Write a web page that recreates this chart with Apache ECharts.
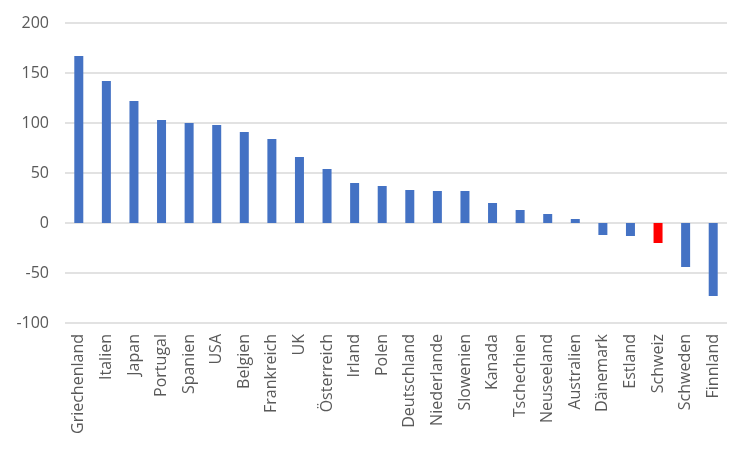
<!DOCTYPE html>
<html>
<head>
<meta charset="utf-8">
<script src="https://cdn.jsdelivr.net/npm/echarts@6/dist/echarts.min.js"></script>
<style>html,body{margin:0;padding:0;background:#fff}#c{width:750px;height:450px}</style>
</head>
<body>
<div id="c"></div>
<script>
const categories = ["Griechenland","Italien","Japan","Portugal","Spanien","USA","Belgien","Frankreich","UK","Österreich","Irland","Polen","Deutschland","Niederlande","Slowenien","Kanada","Tschechien","Neuseeland","Australien","Dänemark","Estland","Schweiz","Schweden","Finnland"];
const values = [167,142,122,103,100,98,91,84,66,54,40,37,33,32,32,20,13,9,4,-12,-13,-20,-44,-73];
const highlight = "Schweiz";
const yTicks = {min:-100, max:200, interval:50};

const chart = echarts.init(document.getElementById('c'), null, {renderer:'canvas'});
chart.setOption({
  animation:false,
  grid:{left:65, right:23, top:23, bottom:127},
  xAxis:{
    type:'category', data:categories,
    axisLine:{show:false}, axisTick:{show:false},
    axisLabel:{rotate:90, interval:0, color:'#595959', fontSize:16, fontFamily:'Open Sans', margin:11}
  },
  yAxis:{
    type:'value', min:yTicks.min, max:yTicks.max, interval:yTicks.interval,
    axisLine:{show:false}, axisTick:{show:false},
    axisLabel:{color:'#595959', fontSize:16, fontFamily:'Open Sans', margin:16},
    splitLine:{lineStyle:{color:'#d9d9d9', width:1.5}}
  },
  series:[{
    type:'bar', barWidth:9,
    data: values.map((v,i)=>({value:v, itemStyle:{color: categories[i]===highlight ? '#FF0000' : '#4472C4'}}))
  }]
});
</script>
</body>
</html>
